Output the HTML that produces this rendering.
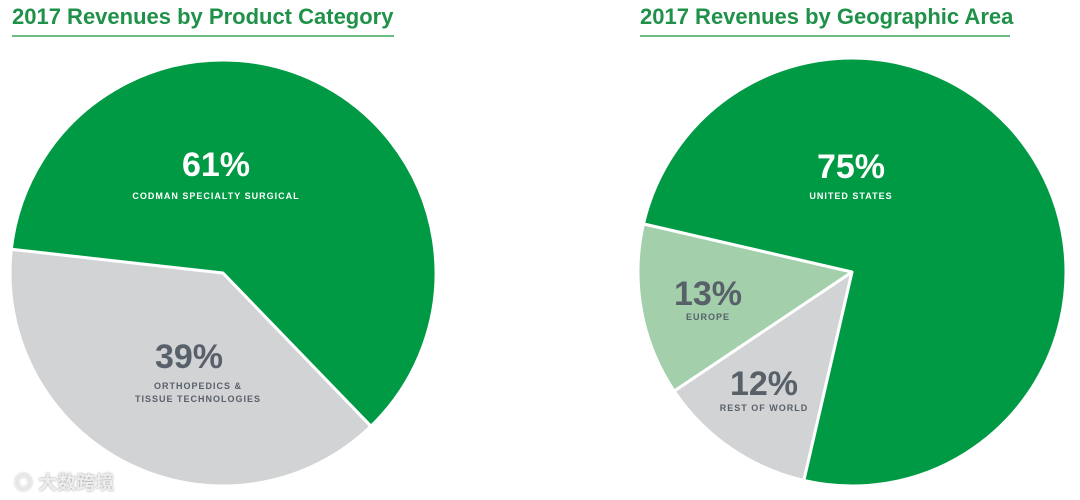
<!DOCTYPE html>
<html><head><meta charset="utf-8"><style>
body{margin:0;width:1080px;height:500px;background:#fff;overflow:hidden;font-family:"Liberation Sans","Noto Sans CJK SC",sans-serif}
.t{position:absolute;top:4px;font-weight:bold;font-size:22px;color:#1f9148;border-bottom:2px solid #6bbd85;padding-bottom:5px;white-space:nowrap}
</style></head><body>
<div class="t" style="left:12px;width:382px">2017 Revenues by Product Category</div>
<div class="t" style="left:640px;width:370px">2017 Revenues by Geographic Area</div>
<svg id="svg" width="1080" height="500" style="position:absolute;left:0;top:0"></svg>
<div style="position:absolute;left:14px;top:468px;color:#eee;font-size:19px;font-weight:bold;text-shadow:0 0 2px #999">◎ 大数跨境</div>
<script>
const leftCategories=["CODMAN SPECIALTY SURGICAL","ORTHOPEDICS & TISSUE TECHNOLOGIES"];
const leftValues=[61,39];
const rightCategories=["UNITED STATES","REST OF WORLD","EUROPE"];
const rightValues=[75,12,13];
const NS="http://www.w3.org/2000/svg";
const svg=document.getElementById('svg');
function pie(cx,cy,r,start,values,colors,names){
  const total=values.reduce((a,b)=>a+b,0);let a=start;
  values.forEach((v,i)=>{
    const sweep=v/total*360,a2=a+sweep;
    const rad=d=>d*Math.PI/180;
    const x1=cx+r*Math.cos(rad(a)),y1=cy+r*Math.sin(rad(a)),x2=cx+r*Math.cos(rad(a2)),y2=cy+r*Math.sin(rad(a2));
    const p=document.createElementNS(NS,'path');
    p.setAttribute('d',`M${cx},${cy}L${x1},${y1}A${r},${r} 0 ${sweep>180?1:0} 1 ${x2},${y2}Z`);
    p.setAttribute('fill',colors[i]);p.setAttribute('stroke','#fff');p.setAttribute('stroke-width','3');p.setAttribute('stroke-linejoin','round');
    
    
    svg.appendChild(p);a=a2;
  });
}
pie(223,273,213,46,[leftValues[1],leftValues[0]],["#d1d3d4","#009a44"],["slice-orthopedics","slice-codman"]);
pie(852,272,214,103-0,[rightValues[1],rightValues[2],rightValues[0]],["#d1d3d4","#a3cfab","#009a44"],["slice-rest-of-world","slice-europe","slice-united-states"]);
function txt(x,y,s,size,fill,name,ls){
  const t=document.createElementNS(NS,'text');
  t.setAttribute('x',x);t.setAttribute('y',y);t.setAttribute('text-anchor','middle');
  t.setAttribute('font-size',size);t.setAttribute('fill',fill);t.setAttribute('font-weight','bold');
  t.setAttribute('font-family','"Liberation Sans",sans-serif');
  if(ls)t.setAttribute('letter-spacing',ls);
  
  
  t.textContent=s;svg.appendChild(t);
}
txt(216,176,leftValues[0]+"%",34,"#fff","label-codman-pct");
txt(216,199,leftCategories[0],9,"#fff","label-codman-name","1");
txt(189,368,leftValues[1]+"%",34,"#58606a","label-ortho-pct");
txt(198,389,"ORTHOPEDICS &",9,"#58606a","label-ortho-name-1","1");
txt(198,402,"TISSUE TECHNOLOGIES",9,"#58606a","label-ortho-name-2","1");
txt(851,178,rightValues[0]+"%",34,"#fff","label-us-pct");
txt(851,199,rightCategories[0],9,"#fff","label-us-name","1");
txt(708,305,rightValues[2]+"%",34,"#58606a","label-europe-pct");
txt(708,320,rightCategories[2],9,"#58606a","label-europe-name","1");
txt(764,395,rightValues[1]+"%",34,"#58606a","label-row-pct");
txt(764,411,rightCategories[1],9,"#58606a","label-row-name","1");
</script>
</body></html>
